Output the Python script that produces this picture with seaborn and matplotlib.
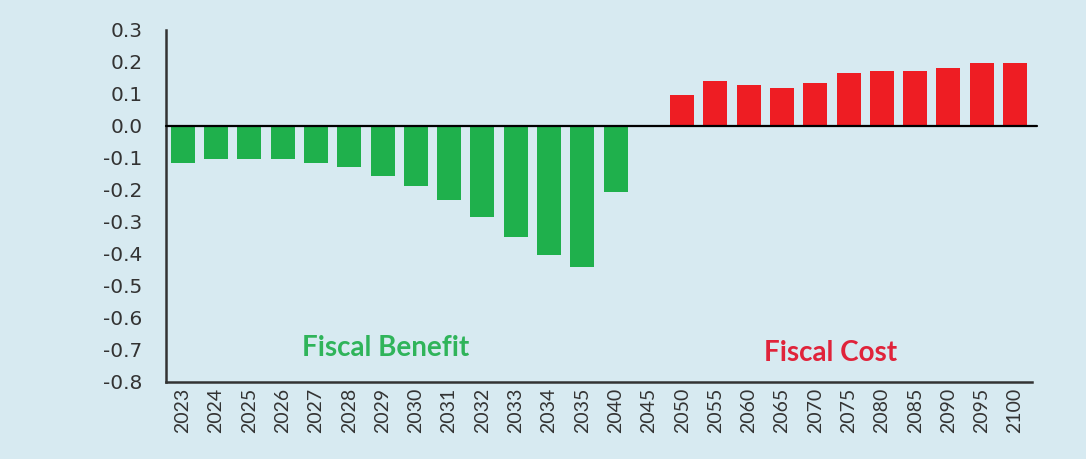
import numpy as np
import pandas as pd
import matplotlib.pyplot as plt
import seaborn as sns

# Values (2045 has no bar)
years = ['2023', '2024', '2025', '2026', '2027', '2028', '2029', '2030', '2031',
         '2032', '2033', '2034', '2035', '2040', '2045', '2050', '2055', '2060',
         '2065', '2070', '2075', '2080', '2085', '2090', '2095', '2100']
values = [-0.117, -0.103, -0.103, -0.103, -0.117, -0.130, -0.158, -0.187, -0.232,
          -0.285, -0.348, -0.402, -0.440, -0.208, np.nan, 0.096, 0.140, 0.127,
          0.118, 0.135, 0.165, 0.172, 0.172, 0.180, 0.196, 0.196]
y_ticks = [0.3, 0.2, 0.1, 0.0, -0.1, -0.2, -0.3, -0.4, -0.5, -0.6, -0.7, -0.8]

df = pd.DataFrame({'Year': years, 'Value': values})
df['Kind'] = np.where(df['Value'] > 0, 'Cost', 'Benefit')

bg = '#d7eaf1'
green = '#1fb04c'
red = '#ee1d23'

sns.set_style('white')
plt.rcParams['font.family'] = ['DejaVu Sans']

fig = plt.figure(figsize=(10.86, 4.59), dpi=100, facecolor=bg)
ax = fig.add_axes([0.153, 0.168, 0.797, 0.767])
ax.set_facecolor(bg)

sns.barplot(data=df, x='Year', y='Value', hue='Kind', order=years,
            palette={'Benefit': green, 'Cost': red}, dodge=False, saturation=1,
            width=0.72, legend=False, linewidth=0, ax=ax)

ax.axhline(0, color='black', lw=1.6, xmin=0, xmax=1.006, clip_on=False, zorder=5)

ax.set_xlim(-0.5, len(years) - 0.5)
ax.set_ylim(-0.8, 0.3)
ax.set_yticks(y_ticks)
ax.set_yticklabels([f'{t:.1f}' for t in y_ticks], fontsize=14.5, color='#333333')
ax.set_xlabel('')
ax.set_ylabel('')

# x ticks sit between categories, labels centred on bars
ax.set_xticks(np.arange(-0.5, len(years), 1.0), minor=True)
ax.tick_params(axis='x', which='minor', length=5, width=1.6, color='#333333', direction='out')
ax.tick_params(axis='x', which='major', length=0, pad=4)
ax.set_xticklabels(years, rotation=90, fontsize=14, family='Lato', color='#333333')
ax.tick_params(axis='y', length=6, width=1.6, color='#333333', direction='out', pad=11)

for side in ['top', 'right']:
    ax.spines[side].set_visible(False)
for side in ['left', 'bottom']:
    ax.spines[side].set_color('#333333')
    ax.spines[side].set_linewidth(1.8)

ax.text(6.08, -0.694, 'Fiscal Benefit', color='#2fb45a', fontsize=20,
        fontweight='bold', family='Lato', ha='center', va='center')
ax.text(19.47, -0.71, 'Fiscal Cost', color='#e0233a', fontsize=20,
        fontweight='bold', family='Lato', ha='center', va='center')

plt.savefig('out.png', dpi=100, facecolor=bg)
